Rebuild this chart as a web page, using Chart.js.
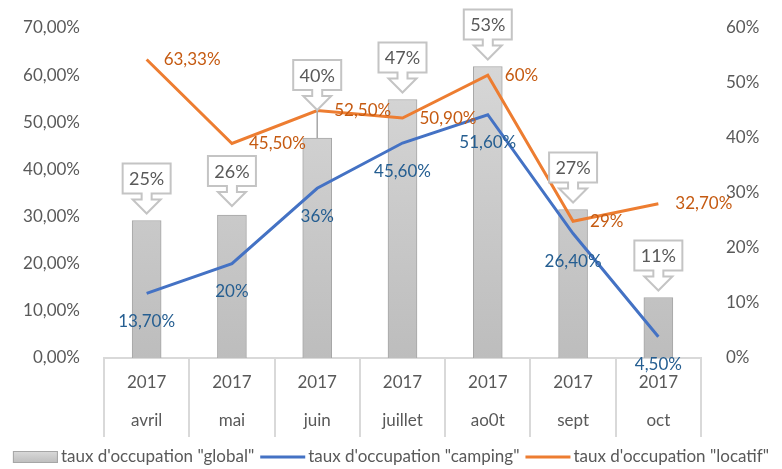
<!DOCTYPE html>
<html><head><meta charset="utf-8">
<script src="https://cdn.jsdelivr.net/npm/chart.js@4/dist/chart.umd.min.js"></script>
<style>html,body{margin:0;padding:0;background:#fff}#wrap{width:782px;height:469px}</style>
</head><body><div id="wrap"><canvas id="c" width="782" height="469"></canvas></div>
<script>
// ---- data ----
const years = ['2017','2017','2017','2017','2017','2017','2017'];
const months = ['avril','mai','juin','juillet','ao0t','sept','oct'];
const globalRate = [25, 26, 40, 47, 53, 27, 11];
const campingRate = [13.7, 20, 36, 45.6, 51.6, 26.4, 4.5];
const locatifRate = [63.33, 45.5, 52.5, 50.9, 60, 29, 32.7];
const seriesNames = ['taux d\'occupation "global"', 'taux d\'occupation "camping"', 'taux d\'occupation "locatif"'];
const leftAxis = {min: 0, max: 70, step: 10};
const rightAxis = {min: 0, max: 60, step: 10};

// ---- style ----
const FONT = 'Lato, "Open Sans", sans-serif';
const TXT = '#595959';
const BLUE = '#4472C4', ORANGE = '#ED7D31';
const BLUE_LBL = '#255E91', ORANGE_LBL = '#C55A11';
const calloutLift = [0, 2, 21, 0, 0, 0, 0];

const fmt = v => Number.isInteger(v) ? v + '%' : v.toFixed(2).replace('.', ',') + '%';

function barGradient(ctx) {
  const ca = ctx.chart.chartArea;
  if (!ca) return '#cfcfcf';
  const g = ctx.chart.ctx.createLinearGradient(0, ca.top, 0, ca.bottom);
  g.addColorStop(0, '#dadada');
  g.addColorStop(1, '#bdbdbd');
  return g;
}

function drawCallout(ctx, cx, tipY, text) {
  const W = 48, H = 30, sh = 6, sw = 5, hw = 14, hh = 14;
  const top = tipY - hh - sh - H;
  ctx.beginPath();
  ctx.moveTo(cx - W/2, top);
  ctx.lineTo(cx + W/2, top);
  ctx.lineTo(cx + W/2, top + H);
  ctx.lineTo(cx + sw, top + H);
  ctx.lineTo(cx + sw, top + H + sh);
  ctx.lineTo(cx + hw, top + H + sh);
  ctx.lineTo(cx, tipY);
  ctx.lineTo(cx - hw, top + H + sh);
  ctx.lineTo(cx - sw, top + H + sh);
  ctx.lineTo(cx - sw, top + H);
  ctx.lineTo(cx - W/2, top + H);
  ctx.closePath();
  ctx.fillStyle = '#fff';
  ctx.fill();
  ctx.strokeStyle = '#c4c4c4';
  ctx.lineWidth = 2;
  ctx.stroke();
  ctx.fillStyle = TXT;
  ctx.font = '18px ' + FONT;
  ctx.textAlign = 'center';
  ctx.textBaseline = 'middle';
  ctx.fillText(text, cx, top + H/2 + 1);
}

const labelPlugin = {
  id: 'customLabels',
  afterDatasetsDraw(chart) {
    const ctx = chart.ctx;
    ctx.save();
    // callouts for bars
    const m0 = chart.getDatasetMeta(0);
    m0.data.forEach((b, i) => {
      const tipY = b.y - 7 - calloutLift[i];
      if (calloutLift[i] > 4) {
        ctx.beginPath();
        ctx.moveTo(b.x, tipY);
        ctx.lineTo(b.x, b.y);
        ctx.strokeStyle = '#a6a6a6';
        ctx.lineWidth = 1.5;
        ctx.stroke();
      }
      drawCallout(ctx, b.x, tipY, fmt(globalRate[i]));
    });
    ctx.font = '17px ' + FONT;
    ctx.textBaseline = 'middle';
    const m1 = chart.getDatasetMeta(1);
    ctx.fillStyle = BLUE_LBL; ctx.textAlign = 'center';
    m1.data.forEach((p, i) => ctx.fillText(fmt(campingRate[i]), p.x, p.y + 28));
    const m2 = chart.getDatasetMeta(2);
    ctx.fillStyle = ORANGE_LBL; ctx.textAlign = 'left';
    m2.data.forEach((p, i) => ctx.fillText(fmt(locatifRate[i]), p.x + 17, p.y));
    ctx.restore();
  },
  afterDraw(chart) {
    // legend
    const ctx = chart.ctx;
    ctx.save();
    ctx.font = '17px ' + FONT;
    ctx.textBaseline = 'middle';
    ctx.textAlign = 'left';
    const sym = 45, gapA = 3, gapB = 6;
    const widths = seriesNames.map(s => ctx.measureText(s).width);
    const total = widths.reduce((a, w) => a + sym + gapA + w, 0) + gapB * 2;
    let x = (782 - total) / 2;
    const y = 457;
    seriesNames.forEach((s, i) => {
      if (i === 0) {
        const g = ctx.createLinearGradient(0, y - 6, 0, y + 6);
        g.addColorStop(0, '#dadada'); g.addColorStop(1, '#bdbdbd');
        ctx.fillStyle = g;
        ctx.fillRect(x, y - 6, sym, 12);
        ctx.strokeStyle = '#a6a6a6'; ctx.lineWidth = 1;
        ctx.strokeRect(x + 0.5, y - 5.5, sym - 1, 11);
      } else {
        ctx.beginPath();
        ctx.moveTo(x, y); ctx.lineTo(x + sym, y);
        ctx.strokeStyle = i === 1 ? BLUE : ORANGE;
        ctx.lineWidth = 3;
        ctx.stroke();
      }
      ctx.fillStyle = TXT;
      ctx.fillText(s, x + sym + gapA, y);
      x += sym + gapA + widths[i] + gapB;
    });
    ctx.restore();
  }
};

new Chart(document.getElementById('c'), {
  data: {
    labels: years.map((y, i) => [y, months[i]]),
    datasets: [
      { type: 'bar', label: seriesNames[0], data: globalRate, yAxisID: 'y1', order: 2,
        backgroundColor: barGradient, borderColor: '#a6a6a6', borderWidth: 1,
        barThickness: 29 },
      { type: 'line', label: seriesNames[1], data: campingRate, yAxisID: 'y', order: 1,
        borderColor: BLUE, borderWidth: 3, pointRadius: 0, tension: 0, fill: false },
      { type: 'line', label: seriesNames[2], data: locatifRate, yAxisID: 'y', order: 0,
        borderColor: ORANGE, borderWidth: 3, pointRadius: 0, tension: 0, fill: false }
    ]
  },
  options: {
    responsive: false,
    animation: false,
    devicePixelRatio: 1,
    layout: { padding: { top: 28, bottom: 32, left: 0, right: 0 } },
    plugins: { legend: { display: false }, tooltip: { enabled: false } },
    scales: {
      x: {
        offset: true,
        grid: { display: true, drawOnChartArea: false, drawTicks: true, tickLength: 79,
                color: '#d9d9d9', lineWidth: 2, offset: true },
        border: { display: true, color: '#d9d9d9', width: 2 },
        ticks: { color: TXT, font: { family: FONT, size: 17, lineHeight: '38px' },
                 padding: -73, maxRotation: 0, autoSkip: false },
        afterFit: s => { s.height = 79; }
      },
      y: {
        position: 'left', min: leftAxis.min, max: leftAxis.max,
        grid: { display: false }, border: { display: false },
        ticks: { stepSize: leftAxis.step, color: TXT, padding: 16,
                 font: { family: FONT, size: 17 },
                 callback: v => v.toFixed(2).replace('.', ',') + '%' },
        afterFit: s => { s.width = 104; }
      },
      y1: {
        position: 'right', min: rightAxis.min, max: rightAxis.max,
        grid: { display: false }, border: { display: false },
        ticks: { stepSize: rightAxis.step, color: TXT, padding: 17,
                 font: { family: FONT, size: 17 },
                 callback: v => v + '%' },
        afterFit: s => { s.width = 81; }
      }
    }
  },
  plugins: [labelPlugin]
});
</script>
</body></html>
